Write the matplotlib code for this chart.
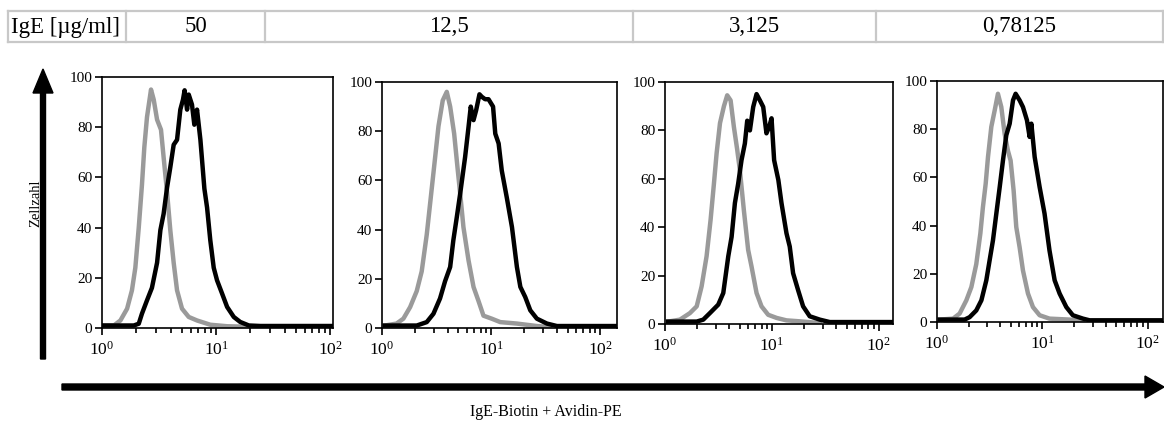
import matplotlib
matplotlib.use('Agg')
import matplotlib.pyplot as plt
from matplotlib.ticker import LogLocator, LogFormatterMathtext, NullFormatter
from matplotlib.lines import Line2D
from matplotlib.patches import FancyArrow

plt.rcParams['font.family'] = 'Liberation Serif'
plt.rcParams['mathtext.fontset'] = 'stix'

# header table
col_labels = ["IgE [µg/ml]", "50", "12,5", "3,125", "0,78125"]

# histogram values (x = fluorescence, y = cell count)
p1_grey_x = [1.0, 1.27, 1.45, 1.66, 1.83, 1.96, 2.10, 2.24, 2.35, 2.48, 2.69, 2.84, 3.04, 3.29, 3.47,
             3.72, 3.97, 4.25, 4.55, 5.03, 5.76, 6.81, 8.9, 12.5, 18.7, 30]
p1_grey_y = [1, 1, 3, 7.7, 15, 24, 40, 57, 72, 84, 95, 91, 83, 79, 68,
             54, 39, 26, 15, 7.7, 4.4, 3, 1.3, 0.7, 0.5, 0.5]
p1_black_x = [1.0, 1.66, 1.90, 2.10, 2.24, 2.48, 2.74, 3.04, 3.25, 3.47, 3.72, 3.97, 4.25, 4.55, 4.86,
              5.13, 5.3, 5.57, 5.76, 6.15, 6.45, 6.81, 7.29, 7.9, 8.34, 8.9, 9.54, 10.2, 11.3, 12.5,
              14.3, 16.3, 19.4, 24.5, 106]
p1_black_y = [1, 1, 1, 1.7, 5.7, 11, 16, 26, 39, 45.5, 56, 64, 73, 75, 87,
              91, 94.7, 87, 93, 89, 81, 87, 75, 55.5, 48, 35, 24, 19, 13.7, 8.4,
              4.4, 2.4, 1, 0.8, 0.8]

p2_grey_x = [1.06, 1.36, 1.57, 1.81, 2.08, 2.31, 2.57, 2.86, 3.06, 3.29, 3.6, 3.92, 4.21, 4.58, 4.91,
             5.2, 5.57, 6.2, 6.89, 7.65, 8.5, 10.1, 12.1, 17.2, 26.2, 34.7]
p2_grey_y = [1, 1.8, 3.8, 8.5, 15, 23, 38, 57, 69, 82, 92.5, 96, 90, 79, 65.4,
             54.6, 41, 27.5, 16.7, 11, 5, 3.8, 2.4, 1.8, 0.8, 0.4]
p2_black_x = [1.06, 2.08, 2.57, 2.96, 3.4, 3.78, 4.21, 4.5, 4.84, 5.2, 5.77, 6.2, 6.5, 6.89, 7.28,
              7.81, 8.2, 8.8, 9.45, 10.4, 10.9, 11.7, 12.5, 13.9, 15.5, 17.2, 18.5, 20.5, 22.8, 26.2,
              32.4, 40, 141]
p2_black_y = [1, 1, 2.4, 5.8, 12, 19, 24.8, 35.6, 45, 54.6, 69.5, 81.7, 90, 84.5, 88.5,
              95, 94, 93, 93, 90, 79, 75, 64, 53, 41, 24.8, 16.7, 12.6, 7.2, 3.8,
              1.8, 0.8, 0.8]

p3_grey_x = [1.07, 1.38, 1.71, 1.98, 2.2, 2.45, 2.67, 2.87, 3.04, 3.27, 3.56, 3.82, 4.11, 4.41, 4.74,
             5.02, 5.47, 6.0, 6.45, 7.19, 8.0, 9.24, 11.1, 13.7, 18.3, 28]
p3_grey_y = [1, 1.8, 4.5, 7.3, 15.5, 28, 43, 58, 70.5, 83, 90, 94.5, 92.4, 81.5, 72,
             63.6, 47, 30.6, 23.8, 12.8, 7.3, 3.8, 2.5, 1.5, 1.1, 0.4]
p3_black_x = [1.07, 1.98, 2.28, 2.63, 3.15, 3.51, 3.91, 4.2, 4.51, 4.84, 5.2, 5.59, 5.88, 6.23, 6.69,
              7.19, 7.73, 8.3, 8.9, 9.44, 9.93, 10.5, 11.5, 12.3, 13.7, 14.7, 15.8, 17.6, 19.6, 22.6,
              28.1, 34.8, 136]
p3_black_y = [1, 1, 1.8, 4.5, 8, 12.8, 28, 36, 50, 58, 67.7, 74.6, 84, 80, 89.7,
              95, 92.4, 89.7, 78.8, 81.5, 85, 67.7, 59.5, 50, 37.5, 32, 21, 14, 7.3, 3.2,
              1.8, 0.8, 0.8]

p4_grey_x = [1.06, 1.42, 1.64, 1.9, 2.12, 2.36, 2.58, 2.73, 2.9, 3.05, 3.28, 3.53, 3.79, 4.08, 4.39,
             4.72, 5.0, 5.34, 5.66, 6.09, 6.55, 7.31, 8.15, 9.43, 11.7, 18.2, 24.3]
p4_grey_y = [1, 1.4, 3.5, 9, 14.5, 24, 36.7, 47.7, 57.4, 68.5, 81, 87.8, 94.7, 89.2, 78,
             71, 67, 54.6, 39.4, 31, 21.4, 11.8, 6.2, 2.8, 1.4, 1, 0.4]
p4_black_x = [1.06, 1.83, 2.04, 2.36, 2.64, 2.94, 3.16, 3.4, 3.66, 3.94, 4.23, 4.55, 4.9, 5.27, 5.58,
              6.09, 6.55, 7.15, 7.58, 7.87, 8.46, 9.43, 10.5, 11.7, 13.1, 14.6, 16.9, 19.5, 24.3, 28.1,
              140]
p4_black_y = [1, 1, 2, 4.8, 9, 17.3, 25.6, 33.9, 45, 56, 67, 77.5, 82.3, 92, 94.7,
              92, 89.2, 83.7, 76.8, 82.3, 68.5, 56, 45, 29.7, 17.3, 11.8, 6.2, 2.8, 1.4, 0.7,
              0.7]

grey_x = [p1_grey_x, p2_grey_x, p3_grey_x, p4_grey_x]
grey_y = [p1_grey_y, p2_grey_y, p3_grey_y, p4_grey_y]
black_x = [p1_black_x, p2_black_x, p3_black_x, p4_black_x]
black_y = [p1_black_y, p2_black_y, p3_black_y, p4_black_y]
x_max = [106, 142, 136, 140]

W, H = 1164, 428
fig = plt.figure(figsize=(W / 100, H / 100), dpi=100)

# panel boxes in pixels: left, right, top, bottom
boxes = [(102, 333, 77, 328), (382, 617, 82, 328), (665, 893, 82, 324), (937, 1163, 81, 322)]

for i, (l, r, t, b) in enumerate(boxes):
    ax = fig.add_axes([l / W, 1 - b / H, (r - l) / W, (b - t) / H])
    ax.plot(grey_x[i], grey_y[i], color='#9a9a9a', lw=3.2, solid_joinstyle='round')
    ax.plot(black_x[i], black_y[i], color='black', lw=3.2, solid_joinstyle='round')
    ax.set_xscale('log')
    ax.set_xlim(1, x_max[i])
    ax.set_ylim(0, 100)
    ax.set_yticks([0, 20, 40, 60, 80, 100])
    ax.xaxis.set_major_locator(LogLocator(base=10, numticks=5))
    ax.xaxis.set_major_formatter(LogFormatterMathtext())
    ax.xaxis.set_minor_locator(LogLocator(base=10, subs=range(2, 10), numticks=20))
    ax.xaxis.set_minor_formatter(NullFormatter())
    ax.tick_params(axis='y', which='major', direction='out', length=5, width=1.2,
                   labelsize=11, pad=2)
    ax.tick_params(axis='x', which='major', direction='out', length=5, width=1.2,
                   labelsize=12.5, pad=4)
    ax.tick_params(axis='x', which='minor', direction='out', length=3.5, width=1.2)
    for s in ax.spines.values():
        s.set_linewidth(1.2)
    ax.patch.set_alpha(0)

# header table lines
tc = '#c8c8c8'
col_edges = [8, 126, 265, 633, 876, 1163]
y_top, y_bot = 11, 42
for yy in (y_top, y_bot):
    fig.add_artist(Line2D([col_edges[0] / W, col_edges[-1] / W], [1 - yy / H, 1 - yy / H],
                          color=tc, lw=1.6))
for xx in col_edges:
    fig.add_artist(Line2D([xx / W, xx / W], [1 - y_top / H, 1 - y_bot / H], color=tc, lw=1.6))

fig.text(11 / W, 1 - 27 / H, col_labels[0], fontsize=16.5, ha='left', va='center')
for k in range(1, 5):
    cx = (col_edges[k] + col_edges[k + 1]) / 2
    fig.text(cx / W, 1 - 27 / H, col_labels[k], fontsize=16.5, ha='center', va='center')

# axis arrows
fig.text(36 / W, 1 - 203 / H, "Zellzahl", fontsize=10.5, rotation=90, ha='center', va='center')
fig.add_artist(FancyArrow(43 / W, 1 - 359 / H, 0, (359 - 93) / H, width=5 / W,
                          head_width=20 / W, head_length=24 / H, length_includes_head=False,
                          color='black', transform=fig.transFigure, zorder=5))
fig.add_artist(FancyArrow(62 / W, 1 - 387 / H, (1145 - 62) / W, 0, width=6 / H,
                          head_width=22 / H, head_length=19 / W, length_includes_head=False,
                          color='black', transform=fig.transFigure, zorder=5))
fig.text(546 / W, 1 - 412 / H, "IgE-Biotin + Avidin-PE", fontsize=11.5, ha='center', va='center')

fig.savefig('out.png', dpi=100)
